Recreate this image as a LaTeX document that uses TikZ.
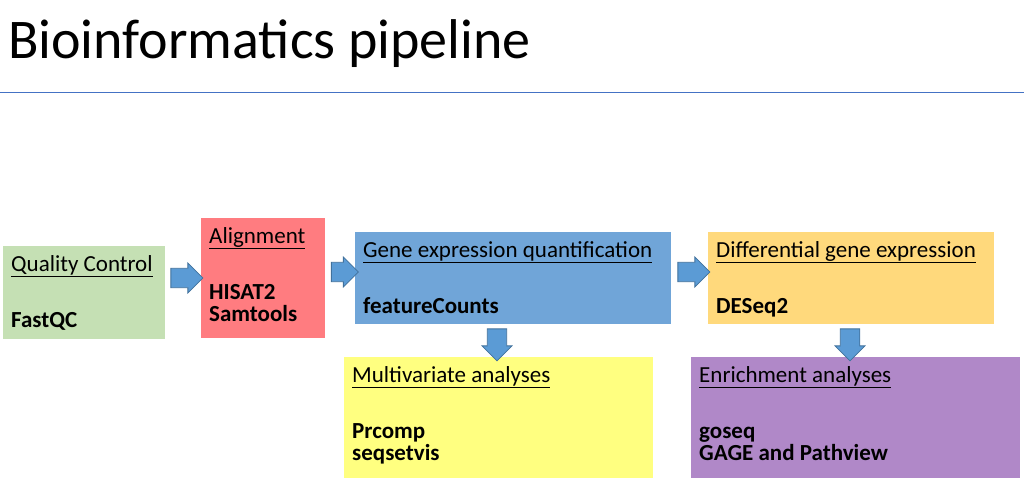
\documentclass[tikz,border=0pt]{standalone}
\usepackage{fontspec}
\setmainfont{Carlito}
\usetikzlibrary{shapes.arrows,positioning}
\definecolor{qcgreen}{HTML}{C5E0B4}
\definecolor{alnred}{HTML}{FF7C80}
\definecolor{geneblue}{HTML}{70A5D8}
\definecolor{diffyel}{HTML}{FFD97C}
\definecolor{multyel}{HTML}{FFFF80}
\definecolor{enrpurp}{HTML}{B088C8}
\definecolor{arrowblue}{HTML}{5B9BD5}
\definecolor{arrowline}{HTML}{41719C}
\definecolor{ruleblue}{HTML}{4472C4}
\tikzset{
  box/.style={rectangle, draw=white, line width=0.8pt, anchor=north west, inner sep=0pt},
  boxtext/.style={anchor=north west, align=left, inner sep=0pt, font=\fontsize{23}{28}\selectfont},
  blockarrow/.style={single arrow, fill=arrowblue, draw=arrowline, line width=0.8pt,
    minimum height=32, minimum width=30, single arrow head extend=4, inner sep=7pt},
}
\begin{document}
\begin{tikzpicture}[x=1pt,y=-1pt]
\useasboundingbox (0,0) rectangle (1024,501);
\node[anchor=west, inner sep=0pt, font=\fontsize{56}{60}\selectfont] (title) at (8,44) {Bioinformatics pipeline};
\draw[ruleblue, line width=1pt] (0,92) -- (1024,92);

\node[box, fill=qcgreen, minimum width=163, minimum height=94] (qc) at (2,245) {};
\node[box, fill=alnred, minimum width=125, minimum height=121] (aln) at (200,217) {};
\node[box, fill=geneblue, minimum width=317, minimum height=93] (gene) at (354,231) {};
\node[box, fill=diffyel, minimum width=287, minimum height=93] (diff) at (707,231) {};
\node[box, fill=multyel, minimum width=310, minimum height=122] (multi) at (343,356) {};
\node[box, fill=enrpurp, minimum width=330, minimum height=122] (enrich) at (690,356) {};

\node[boxtext] (qc-text) at ([shift={(9,10)}]qc.north west) {\underline{Quality Control}\\ \\ \textbf{FastQC}};
\node[boxtext] (aln-text) at ([shift={(9,10)}]aln.north west) {\underline{Alignment}\\ \\ \textbf{HISAT2}\\[-6pt] \textbf{Samtools}};
\node[boxtext] (gene-text) at ([shift={(9,10)}]gene.north west) {\underline{Gene expression quantification}\\ \\ \textbf{featureCounts}};
\node[boxtext] (diff-text) at ([shift={(9,10)}]diff.north west) {\underline{Differential gene expression}\\ \\ \textbf{DESeq2}};
\node[boxtext] (multi-text) at ([shift={(9,10)}]multi.north west) {\underline{Multivariate analyses}\\ \\ \textbf{Prcomp}\\[-6pt] \textbf{seqsetvis}};
\node[boxtext] (enrich-text) at ([shift={(9,10)}]enrich.north west) {\underline{Enrichment analyses}\\ \\ \textbf{goseq}\\[-6pt] \textbf{GAGE and Pathview}};

\node[blockarrow] (a-qc-aln) at (182,278) {};
\node[blockarrow, minimum height=27] (a-aln-gene) at (340,272) {};
\node[blockarrow] (a-gene-diff) at (689,272) {};
\node[blockarrow, rotate=-90] (a-gene-multi) at (497,340) {};
\node[blockarrow, rotate=-90] (a-diff-enrich) at (850,340) {};
\end{tikzpicture}
\end{document}
